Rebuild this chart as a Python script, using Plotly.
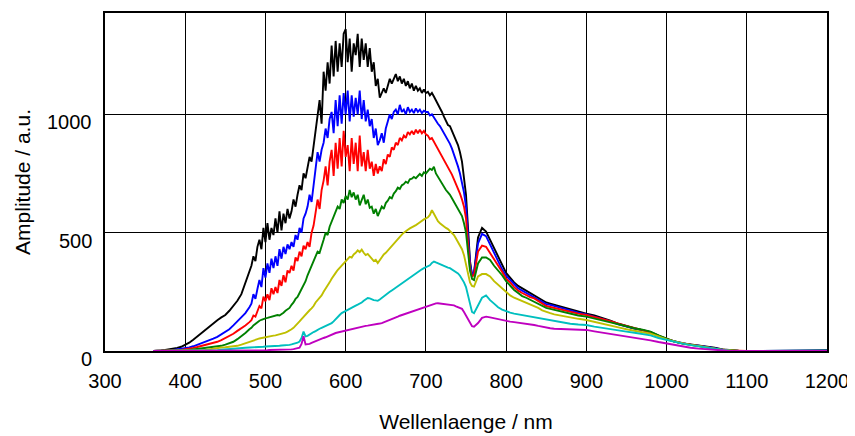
import plotly.graph_objects as go

# Wavelength grid (nm): 5 nm to 480, 2.5 nm from 482.5 to 760, 5 nm to 860, 10 nm to 1200
wl = ([v for v in range(360, 481, 5)]
      + [482.5 + 2.5 * i for i in range(112)]
      + [v for v in range(765, 861, 5)]
      + [v for v in range(870, 1201, 10)])

black = ([0, 0, 2, 4, 6, 9, 13, 18, 25, 35, 48, 62, 75, 88, 105, 118, 130, 142, 152, 170, 190, 212, 240, 290, 340]
         + [360, 400, 380, 440, 470, 430, 520, 460, 540, 470, 520, 490, 560, 500, 590, 510,
            580, 540, 600, 560, 590, 640, 610, 660, 700, 680, 750, 730, 780, 820, 800, 870,
            920, 1000, 1060, 960, 1180, 1100, 1220, 1130, 1290, 1160, 1310, 1180, 1300, 1200, 1340, 1360,
            1220, 1320, 1180, 1300, 1250, 1340, 1200, 1320, 1230, 1300, 1200, 1280, 1180, 1220, 1120, 1150,
            1070, 1090, 1110, 1090, 1120, 1150, 1130, 1150, 1170, 1140, 1160, 1130, 1150, 1120, 1140, 1110,
            1130, 1100, 1120, 1100, 1110, 1090, 1105, 1090, 1095, 1080, 1090, 1075, 1060, 1040, 1030, 1010,
            990, 975, 955, 950, 930, 915, 890, 870, 840, 800, 730, 660, 520, 380, 320, 330]
         + [480, 520, 505, 470, 430, 395, 360, 330, 310, 290, 275, 265, 255, 245, 235, 228, 215, 205, 200, 195]
         + [185, 175, 166, 158, 150, 140, 128, 115, 104, 95, 88, 80, 65, 50, 40, 32, 28, 24, 20, 14,
            7, 3, 1, 0, 0, 0, 0, 0, 0, 0, 0, 0, 0, 0])

blue = ([0, 0, 0, 1, 2, 4, 6, 8, 11, 15, 20, 26, 32, 38, 45, 52, 60, 70, 80, 92, 108, 125, 142, 160, 185]
        + [200, 240, 220, 262, 300, 270, 350, 310, 370, 330, 390, 350, 400, 360, 430, 390,
           440, 410, 450, 430, 460, 440, 490, 470, 520, 500, 560, 580, 610, 660, 630, 700,
           780, 840, 800, 850, 880, 940, 900, 980, 1010, 920, 1060, 950, 1080, 960, 1090, 1000,
           1100, 970, 1080, 990, 1070, 1000, 1100, 980, 1060, 970, 1020, 950, 980, 900, 940, 870,
           890, 920, 880, 940, 970, 1000, 980, 1010, 1020, 1000, 1040, 1010, 1020, 1000, 1030, 1010,
           1020, 1005, 1025, 1010, 1020, 1005, 1015, 1010, 1010, 995, 1000, 985, 975, 960, 950, 935,
           925, 910, 890, 875, 855, 830, 810, 780, 750, 710, 670, 610, 480, 370, 325, 330]
        + [455, 495, 485, 450, 410, 378, 345, 318, 300, 282, 265, 255, 245, 235, 228, 218, 208, 198, 195, 190]
        + [180, 170, 162, 155, 146, 135, 125, 113, 103, 95, 88, 80, 64, 50, 40, 32, 27, 22, 18, 12,
           6, 2, 0, 0, 0, 0, 0, 0, 0, 0, 0, 0, 3, 3])

red = ([0, 0, 0, 0, 1, 2, 3, 5, 7, 10, 13, 17, 21, 26, 30, 35, 39, 46, 54, 63, 73, 85, 96, 108, 122]
       + [130, 150, 145, 168, 190, 180, 230, 210, 240, 215, 265, 240, 270, 245, 300, 275,
          320, 290, 340, 330, 360, 340, 395, 380, 420, 400, 445, 430, 460, 440, 500, 530,
          590, 640, 600, 680, 720, 780, 700, 800, 850, 740, 880, 770, 900, 780, 930, 820,
          870, 760, 900, 790, 880, 760, 910, 780, 840, 760, 850, 770, 800, 740, 790, 750,
          780, 760, 810, 790, 830, 820, 860, 850, 880, 870, 900, 890, 910, 900, 925, 915,
          930, 915, 935, 920, 935, 920, 930, 915, 910, 895, 900, 885, 870, 850, 840, 825,
          810, 795, 780, 765, 745, 725, 705, 690, 665, 640, 610, 560, 440, 350, 315, 320]
       + [420, 445, 440, 415, 385, 360, 335, 305, 290, 270, 255, 245, 236, 228, 222, 212, 200, 190, 186, 182]
       + [172, 165, 158, 152, 144, 134, 126, 116, 106, 96, 88, 80, 64, 52, 40, 32, 26, 21, 17, 11,
          5, 2, 0, 0, 0, 0, 0, 0, 0, 0, 0, 0, 0, 0])

green = ([0, 0, 0, 0, 0, 0, 0, 1, 2, 4, 6, 8, 11, 13, 15, 17, 18, 22, 27, 33, 39, 50, 62, 76, 92]
         + [98, 108, 115, 124, 128, 132, 136, 138, 140, 142, 144, 145, 148, 152, 150, 155,
            162, 170, 175, 182, 195, 205, 220, 228, 245, 260, 280, 295, 320, 340, 365, 385,
            400, 420, 415, 440, 470, 500, 490, 525, 545, 570, 590, 610, 600, 640, 625, 655,
            640, 680, 650, 670, 640, 660, 615, 640, 660, 620, 640, 605, 610, 580, 600, 570,
            590, 610, 600, 625, 635, 650, 645, 665, 675, 690, 685, 700, 705, 715, 710, 725,
            728, 735, 730, 740, 748, 740, 755, 750, 760, 770, 765, 778, 750, 735, 720, 710,
            695, 680, 670, 660, 645, 630, 620, 605, 590, 570, 540, 500, 420, 340, 305, 300]
         + [370, 395, 395, 385, 360, 340, 320, 295, 275, 258, 245, 232, 225, 216, 208, 200, 190, 182, 178, 174]
         + [165, 157, 150, 145, 138, 130, 121, 113, 104, 96, 90, 82, 66, 53, 40, 31, 25, 20, 16, 10,
            5, 2, 0, 0, 0, 3, 0, 0, 0, 0, 0, 0, 0, 2])

yellow = ([0, 0, 0, 0, 0, 0, 0, 0, 0, 0, 0, 2, 3, 5, 8, 11, 14, 15, 16, 17, 18, 22, 27, 32, 38]
          + [41, 44, 47, 50, 53, 55, 58, 60, 62, 63, 64, 65, 66, 68, 70, 72,
             75, 78, 82, 86, 92, 98, 106, 115, 125, 135, 145, 155, 162, 172, 180, 190,
             205, 215, 228, 235, 250, 262, 275, 290, 305, 320, 330, 342, 352, 362, 370, 378,
             390, 398, 395, 408, 415, 425, 418, 428, 415, 405, 410, 398, 390, 380, 385, 372,
             385, 395, 408, 415, 425, 432, 445, 452, 465, 475, 485, 492, 500, 508, 512, 518,
             522, 528, 532, 538, 545, 552, 556, 560, 565, 575, 595, 580, 560, 548, 540, 532,
             525, 520, 515, 508, 500, 490, 475, 460, 445, 430, 405, 370, 330, 290, 275, 272]
          + [315, 325, 325, 315, 295, 280, 265, 248, 235, 225, 218, 210, 205, 198, 192, 182, 172, 165, 160, 155]
          + [148, 142, 136, 131, 124, 116, 108, 100, 92, 86, 80, 73, 62, 49, 40, 32, 26, 21, 17, 10,
             5, 2, 0, 0, 0, 0, 0, 0, 0, 0, 0, 0, 0, 0])

cyan = ([0, 0, 0, 0, 0, 0, 0, 0, 0, 0, 0, 0, 0, 0, 2, 2, 3, 5, 7, 9, 11, 12, 13, 14, 15]
        + [15, 16, 16, 17, 17, 18, 18, 19, 19, 20, 20, 21, 21, 22, 22, 23,
           23, 24, 25, 26, 28, 30, 32, 35, 40, 55, 82, 62, 64, 70, 74, 80,
           84, 90, 94, 98, 102, 105, 108, 112, 118, 125, 135, 145, 152, 160, 165, 170,
           175, 180, 184, 188, 192, 196, 200, 205, 212, 218, 224, 222, 218, 215, 214, 212,
           218, 225, 232, 240, 245, 250, 256, 262, 268, 275, 282, 288, 295, 300, 306, 312,
           318, 322, 328, 335, 340, 345, 350, 355, 358, 362, 372, 378, 374, 370, 366, 362,
           358, 355, 352, 350, 345, 340, 334, 328, 318, 305, 290, 270, 235, 195, 165, 160]
        + [195, 225, 235, 215, 200, 185, 175, 168, 162, 158, 155, 150, 147, 145, 142, 138, 135, 132, 130, 127]
        + [120, 115, 112, 110, 103, 97, 92, 87, 82, 77, 72, 66, 55, 46, 38, 31, 25, 19, 14, 8,
           4, 1, 0, 0, 0, 0, 0, 0, 0, 0, 0, 0, 0, 0])

magenta = ([0, 0, 0, 0, 0, 0, 0, 0, 0, 0, 0, 0, 0, 0, 0, 0, 0, 0, 0, 0, 0, 0, 1, 1, 1]
           + [1, 1, 1, 1, 2, 2, 2, 3, 3, 4, 4, 4, 4, 4, 4, 4,
              5, 5, 6, 6, 7, 8, 10, 12, 14, 30, 62, 28, 28, 30, 34, 38,
              42, 46, 49, 52, 55, 58, 62, 66, 70, 73, 76, 78, 80, 83, 86, 88,
              90, 92, 94, 96, 98, 100, 102, 103, 105, 106, 107, 108, 109, 110, 112, 114,
              116, 118, 121, 124, 127, 130, 134, 138, 142, 145, 149, 152, 155, 158, 161, 164,
              167, 170, 173, 176, 178, 180, 183, 186, 190, 194, 197, 200, 201, 202, 201, 200,
              199, 198, 198, 197, 195, 193, 189, 185, 182, 178, 165, 150, 130, 115, 105, 103]
           + [118, 140, 145, 142, 138, 134, 130, 126, 124, 122, 120, 118, 117, 115, 110, 106, 102, 98, 96, 94]
           + [92, 90, 90, 89, 83, 78, 72, 67, 62, 57, 51, 45, 38, 32, 25, 18, 14, 10, 7, 3,
              1, 0, 0, 0, 0, 0, 0, 0, 0, 0, 0, 0, 0, 0])

series = [
    (black, "#000000"),
    (blue, "#0000ff"),
    (red, "#ff0000"),
    (green, "#008000"),
    (yellow, "#bfbf00"),
    (cyan, "#00bfbf"),
    (magenta, "#bf00bf"),
]

x_ticks = [300, 400, 500, 600, 700, 800, 900, 1000, 1100, 1200]
y_ticks = [0, 500, 1000]

FONT = "Liberation Sans, Arial, sans-serif"

fig = go.Figure()
for vals, col in series:
    assert len(vals) == len(wl), (col, len(vals), len(wl))
    fig.add_trace(go.Scatter(x=wl, y=vals, mode="lines",
                             line=dict(color=col, width=1.9),
                             showlegend=False, hoverinfo="skip"))

# y tick labels, drawn slightly below their grid lines as in the original
for v in y_ticks:
    fig.add_annotation(x=0, xref="paper", y=v, yref="y", text=str(v),
                       showarrow=False, xanchor="right", yanchor="middle",
                       xshift=-11, yshift=-8,
                       font=dict(family=FONT, size=20, color="black"))

# the page body adds an 8 px margin, so the figure is 8 px smaller than the window
fig.update_layout(
    width=847, height=428,
    margin=dict(l=97, r=28, t=5, b=85),
    paper_bgcolor="white", plot_bgcolor="white",
    font=dict(family=FONT, size=20, color="black"),
    showlegend=False,
)
fig.update_xaxes(
    range=[300, 1200], tickvals=x_ticks, ticktext=[str(v) for v in x_ticks],
    showgrid=True, gridcolor="black", gridwidth=1,
    showline=True, linecolor="black", linewidth=1.5, mirror=True,
    zeroline=False, ticks="", ticklabelstandoff=11, automargin=False,
    title=dict(text="Wellenlaenge / nm", font=dict(size=21), standoff=24),
)
fig.update_yaxes(
    range=[0, 1428], tickvals=y_ticks, showticklabels=False,
    showgrid=True, gridcolor="black", gridwidth=1.3,
    showline=True, linecolor="black", linewidth=1.5, mirror=True,
    zeroline=False, ticks="inside", ticklen=5, tickcolor="black", automargin=False,
    title=dict(text="Amplitude / a.u.", font=dict(size=21), standoff=67),
)

fig.write_html("out.html")
